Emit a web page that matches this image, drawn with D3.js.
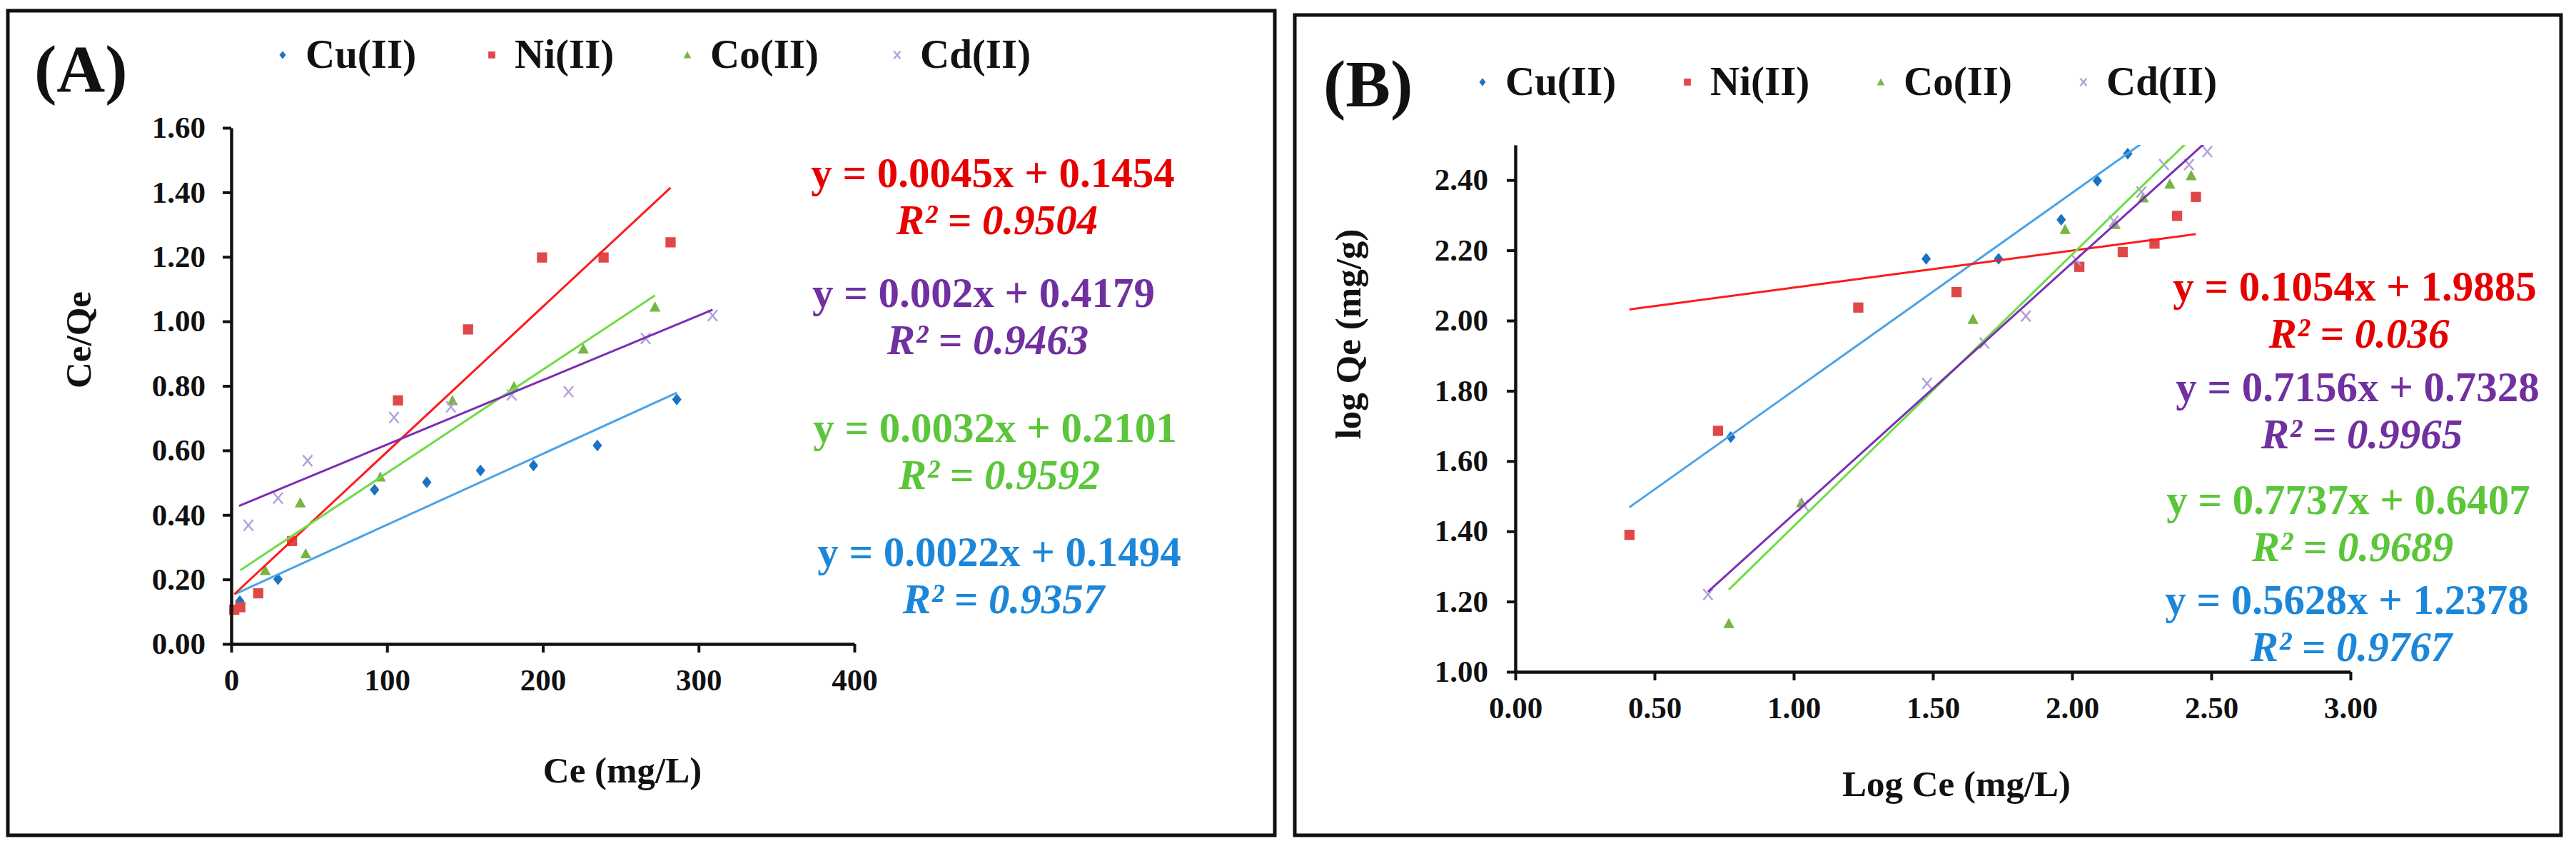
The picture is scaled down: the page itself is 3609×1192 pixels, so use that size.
<!DOCTYPE html>
<html>
<head>
<meta charset="utf-8">
<script src="https://cdn.jsdelivr.net/npm/d3@7"></script>
<style>
  body { margin: 0; background: #fff; }
  svg text { font-family: "Liberation Serif", "Times New Roman", serif; font-weight: bold; }
</style>
</head>
<body>
<svg id="chart" width="3609" height="1192"></svg>
<script>
// ---- data ----
const seriesNames = ["Cu(II)", "Ni(II)", "Co(II)", "Cd(II)"];

// (A) Ce/Qe vs Ce
const cuA_x = [5.5, 30, 92, 125.5, 160, 194, 235, 286];
const cuA_y = [0.133, 0.201, 0.478, 0.501, 0.538, 0.553, 0.615, 0.758];
const niA_x = [1.9, 5.8, 17.3, 39, 107, 152, 199.5, 239, 282];
const niA_y = [0.106, 0.114, 0.157, 0.319, 0.755, 0.975, 1.198, 1.198, 1.245];
const coA_x = [21.8, 44.3, 47.8, 95.7, 142, 181.5, 226, 272];
const coA_y = [0.228, 0.438, 0.28, 0.518, 0.755, 0.798, 0.915, 1.045];
const cdA_x = [11, 30, 49, 104.5, 141, 180, 216.5, 266, 309];
const cdA_y = [0.368, 0.452, 0.568, 0.702, 0.735, 0.772, 0.782, 0.947, 1.018];
const slopeA = [0.0022, 0.0045, 0.0032, 0.002];
const interceptA = [0.1494, 0.1454, 0.2101, 0.4179];
const r2A = ["0.9357", "0.9504", "0.9592", "0.9463"];
const trendFromA = [2.4, 2, 5.8, 5];
const trendToA = [286, 282, 272, 309];
const xTicksA = [0, 100, 200, 300, 400];
const yTicksA = [0, 0.2, 0.4, 0.6, 0.8, 1.0, 1.2, 1.4, 1.6];

// (B) log Qe vs log Ce
const cuB_x = [0.774, 1.476, 1.736, 1.961, 2.091, 2.2];
const cuB_y = [1.668, 2.176, 2.176, 2.287, 2.398, 2.475];
const niB_x = [0.41, 0.728, 1.232, 1.585, 2.026, 2.182, 2.296, 2.377, 2.445];
const niB_y = [1.39, 1.686, 2.037, 2.081, 2.153, 2.195, 2.219, 2.298, 2.352];
const coB_x = [0.767, 1.028, 1.644, 1.975, 2.155, 2.256, 2.351, 2.428];
const coB_y = [1.138, 1.482, 2.004, 2.26, 2.274, 2.35, 2.389, 2.413];
const cdB_x = [0.692, 1.036, 1.479, 1.685, 1.834, 2.014, 2.15, 2.249, 2.33, 2.42, 2.486];
const cdB_y = [1.22, 1.474, 1.821, 1.936, 2.0125, 2.173, 2.283, 2.366, 2.444, 2.444, 2.481];
const slopeB = [0.5628, 0.1054, 0.7737, 0.7156];
const interceptB = [1.2378, 1.9885, 0.6407, 0.7328];
const r2B = ["0.9767", "0.036", "0.9689", "0.9965"];
const trendFromB = [0.41, 0.41, 0.767, 0.692];
const trendToB = [2.25, 2.445, 2.5, 2.5];
const xTicksB = [0, 0.5, 1.0, 1.5, 2.0, 2.5, 3.0];
const yTicksB = [1.0, 1.2, 1.4, 1.6, 1.8, 2.0, 2.2, 2.4];

// ---- styles ----
const markerColor = ["#1a73c0", "#e04848", "#78b443", "#b39ddb"];
const lineColor = ["#4aa3e8", "#ff1a1a", "#6edc46", "#7b2fb5"];
const textColor = ["#1c87d9", "#e60000", "#5bc63a", "#7030a0"];
const shapes = ["diamond", "square", "triangle", "cross"];

const svg = d3.select("#chart");
svg.append("rect").attr("width", 3609).attr("height", 1192).attr("fill", "#fff");

function markerPath(shape, s) {
  if (shape === "diamond") return `M0,${-7.5 * s}L${6 * s},0L0,${7.5 * s}L${-6 * s},0Z`;
  if (shape === "square") return `M${-6.5 * s},${-6.5 * s}h${13 * s}v${13 * s}h${-13 * s}Z`;
  if (shape === "triangle") return `M0,${-7 * s}L${7 * s},${6 * s}L${-7 * s},${6 * s}Z`;
  return `M${-6 * s},${-7 * s}L${6 * s},${7 * s}M${6 * s},${-7 * s}L${-6 * s},${7 * s}`;
}

function drawMarker(g, i, x, y, s) {
  const p = g.append("path")
    .attr("transform", `translate(${x},${y})`)
    .attr("d", markerPath(shapes[i], s));
  if (shapes[i] === "cross") {
    p.attr("fill", "none").attr("stroke", markerColor[i]).attr("stroke-width", 2.4);
  } else {
    p.attr("fill", markerColor[i]);
  }
}

function drawPanel(p) {
  // frame
  svg.append("rect")
    .attr("x", p.frame[0]).attr("y", p.frame[1])
    .attr("width", p.frame[2]).attr("height", p.frame[3])
    .attr("fill", "none").attr("stroke", "#111").attr("stroke-width", 5);

  const x = d3.scaleLinear().domain(p.xDomain).range([p.left, p.right]);
  const y = d3.scaleLinear().domain(p.yDomain).range([p.bottom, p.top]);

  const clipId = "clip" + p.id;
  svg.append("clipPath").attr("id", clipId)
    .append("rect")
    .attr("x", p.left).attr("y", p.top)
    .attr("width", p.right - p.left + 40).attr("height", p.bottom - p.top);

  const plot = svg.append("g");

  // markers
  p.series.forEach((s, i) => {
    s.x.forEach((xv, k) => drawMarker(plot, i, x(xv), y(s.y[k]), 1.1));
  });

  // trendlines (on top of the markers)
  const lines = svg.append("g").attr("clip-path", `url(#${clipId})`);
  p.series.forEach((s, i) => {
    const x0 = s.from, x1 = s.to;
    lines.append("line")
      .attr("x1", x(x0)).attr("y1", y(s.slope * x0 + s.intercept))
      .attr("x2", x(x1)).attr("y2", y(s.slope * x1 + s.intercept))
      .attr("stroke", lineColor[i]).attr("stroke-width", 3);
  });

  // axes
  const xAxis = svg.append("g")
    .attr("transform", `translate(0,${p.bottom})`)
    .call(d3.axisBottom(x).tickValues(p.xTicks).tickFormat(p.xFormat)
      .tickSize(12).tickSizeOuter(0).tickPadding(22));
  const yAxis = svg.append("g")
    .attr("transform", `translate(${p.left},0)`)
    .call(d3.axisLeft(y).tickValues(p.yTicks).tickFormat(d3.format(".2f"))
      .tickSize(12).tickSizeOuter(0).tickPadding(p.yPad));
  [xAxis, yAxis].forEach(a => {
    a.select(".domain").attr("stroke", "#111").attr("stroke-width", 4.5);
    a.selectAll(".tick line").attr("stroke", "#111").attr("stroke-width", 4);
    a.selectAll(".tick text")
      .attr("fill", "#111")
      .style("font-family", '"Liberation Serif", "Times New Roman", serif')
      .style("font-weight", "bold")
      .style("font-size", "43px");
  });

  // axis titles
  svg.append("text")
    .attr("x", p.xTitle[0]).attr("y", p.xTitle[1])
    .attr("text-anchor", "middle").attr("font-size", 51).attr("fill", "#111")
    .text(p.xLabel);
  svg.append("text")
    .attr("transform", `translate(${p.yTitle[0]},${p.yTitle[1]}) rotate(-90)`)
    .attr("text-anchor", "middle").attr("font-size", 51).attr("fill", "#111")
    .text(p.yLabel);

  // panel letter
  svg.append("text")
    .attr("x", p.letter[0]).attr("y", p.letter[1])
    .attr("font-size", 94).attr("fill", "#111")
    .text(p.letterText);

  // legend
  seriesNames.forEach((name, i) => {
    drawMarker(svg, i, p.legendX[i], p.legendY, 0.75);
    svg.append("text")
      .attr("x", p.legendX[i] + 32).attr("y", p.legendY + 18)
      .attr("font-size", 57).attr("fill", "#111")
      .text(name);
  });

  // equations
  p.series.forEach((s, i) => {
    const pos = p.labels[i];
    svg.append("text")
      .attr("x", pos[0]).attr("y", pos[1])
      .attr("text-anchor", "middle").attr("font-size", 59).attr("fill", textColor[i])
      .text(`y = ${s.slope}x + ${s.intercept}`);
    svg.append("text")
      .attr("x", pos[0] + 6).attr("y", pos[1] + 66)
      .attr("text-anchor", "middle").attr("font-size", 59).attr("fill", textColor[i])
      .style("font-style", "italic")
      .text(`R² = ${s.r2}`);
  });
}

function buildSeries(xs, ys, slopes, intercepts, r2s, from, to) {
  return xs.map((xv, i) => ({
    x: xv, y: ys[i], slope: slopes[i], intercept: intercepts[i],
    r2: r2s[i], from: from[i], to: to[i]
  }));
}

drawPanel({
  id: "A",
  frame: [11, 15, 1775, 1155],
  left: 324, right: 1197, top: 179, bottom: 902,
  xDomain: [0, 400], yDomain: [0, 1.6],
  xTicks: xTicksA, yTicks: yTicksA, xFormat: d3.format("d"), yPad: 24,
  series: buildSeries([cuA_x, niA_x, coA_x, cdA_x], [cuA_y, niA_y, coA_y, cdA_y],
    slopeA, interceptA, r2A, trendFromA, trendToA),
  xLabel: "Ce (mg/L)", xTitle: [872, 1096],
  yLabel: "Ce/Qe", yTitle: [127, 476],
  letterText: "(A)", letter: [48, 128],
  legendX: [396, 689, 963, 1257], legendY: 77,
  labels: [[1400, 793], [1391, 262], [1394, 619], [1378, 430]]
});

drawPanel({
  id: "B",
  frame: [1814, 21, 1774, 1149],
  left: 2123, right: 3293, top: 203, bottom: 941,
  xDomain: [0, 3], yDomain: [1, 2.5],
  xTicks: xTicksB, yTicks: yTicksB, xFormat: d3.format(".2f"), yPad: 26,
  series: buildSeries([cuB_x, niB_x, coB_x, cdB_x], [cuB_y, niB_y, coB_y, cdB_y],
    slopeB, interceptB, r2B, trendFromB, trendToB),
  xLabel: "Log Ce (mg/L)", xTitle: [2741, 1115],
  yLabel: "log Qe (mg/g)", yTitle: [1906, 468],
  letterText: "(B)", letter: [1854, 149],
  legendX: [2077, 2364, 2635, 2919], legendY: 115,
  labels: [[3288, 860], [3299, 421], [3290, 719.5], [3303, 562]]
});
</script>
</body>
</html>
